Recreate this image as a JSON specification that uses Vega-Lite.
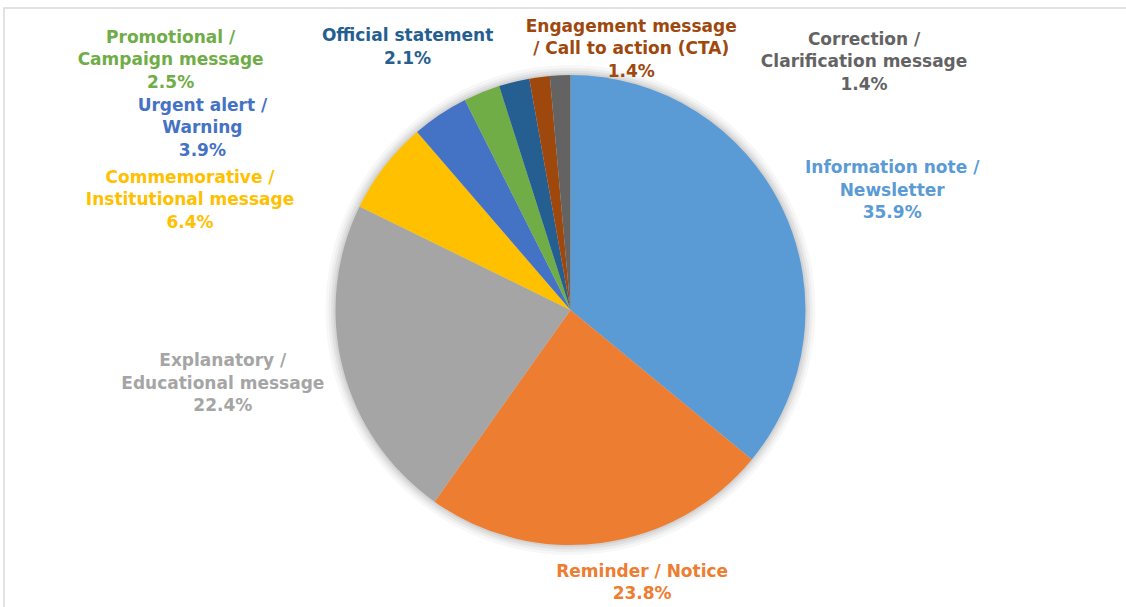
{
  "$schema": "https://vega.github.io/schema/vega-lite/v6.json",
  "autosize": {"type": "none"},
  "width": 1133,
  "height": 604,
  "padding": {"left": 4, "top": 8, "right": -11, "bottom": -5},
  "background": "#ffffff",
  "config": {
    "view": {"stroke": null},
    "text": {"font": "DejaVu Sans", "fontWeight": "bold", "fontSize": 17, "lineHeight": 22.5, "lineBreak": "\n", "align": "center", "baseline": "middle"}
  },
  "datasets": {
    "shares": [
      {"cat": "Information note / Newsletter", "pct": 35.9, "order": 1, "label": "Information note /\nNewsletter\n35.9%"},
      {"cat": "Reminder / Notice", "pct": 23.8, "order": 2, "label": "Reminder / Notice\n23.8%"},
      {"cat": "Explanatory / Educational message", "pct": 22.4, "order": 3, "label": "Explanatory /\nEducational message\n22.4%"},
      {"cat": "Commemorative / Institutional message", "pct": 6.4, "order": 4, "label": "Commemorative /\nInstitutional message\n6.4%"},
      {"cat": "Urgent alert / Warning", "pct": 3.9, "order": 5, "label": "Urgent alert /\nWarning\n3.9%"},
      {"cat": "Promotional / Campaign message", "pct": 2.5, "order": 6, "label": "Promotional /\nCampaign message\n2.5%"},
      {"cat": "Official statement", "pct": 2.1, "order": 7, "label": "Official statement\n2.1%"},
      {"cat": "Engagement message / Call to action (CTA)", "pct": 1.4, "order": 8, "label": "Engagement message\n/ Call to action (CTA)\n1.4%"},
      {"cat": "Correction / Clarification message", "pct": 1.4, "order": 9, "label": "Correction /\nClarification message\n1.4%"}
    ],
    "frame": [{"name": "chart area"}]
  },
  "layer": [
    {
      "data": {"name": "frame"},
      "mark": {"type": "rect", "fill": null, "stroke": "#D9D9D9", "strokeWidth": 1.5},
      "encoding": {}
    },
    {
      "data": {"name": "shares"},
      "encoding": {
        "theta": {"field": "pct", "type": "quantitative", "stack": true},
        "order": {"field": "order", "type": "quantitative", "sort": "ascending"}
      },
      "layer": [
        {"mark": {"type": "arc", "outerRadius": 245, "color": "#000000", "opacity": 0.03}},
        {"mark": {"type": "arc", "outerRadius": 242, "color": "#000000", "opacity": 0.04}},
        {"mark": {"type": "arc", "outerRadius": 239.5, "color": "#000000", "opacity": 0.05}},
        {"mark": {"type": "arc", "outerRadius": 237, "color": "#000000", "opacity": 0.06}},
        {
          "mark": {"type": "arc", "outerRadius": 235},
          "encoding": {
            "color": {
              "field": "cat", "type": "nominal", "legend": null,
              "scale": {
                "domain": ["Information note / Newsletter", "Reminder / Notice", "Explanatory / Educational message", "Commemorative / Institutional message", "Urgent alert / Warning", "Promotional / Campaign message", "Official statement", "Engagement message / Call to action (CTA)", "Correction / Clarification message"],
                "range": ["#5B9BD5", "#ED7D31", "#A5A5A5", "#FFC000", "#4472C4", "#70AD47", "#255E91", "#9E480E", "#636363"]
              }
            }
          }
        },
        {"mark": {"type": "text", "radius": 342.4, "dx": 12, "dy": 4.5, "color": "#5B9BD5"},
         "encoding": {"text": {"condition": {"test": "datum.order === 1", "field": "label", "type": "nominal"}, "value": ""}}},
        {"mark": {"type": "text", "radius": 278.1, "dx": 35, "dy": -14, "color": "#ED7D31"},
         "encoding": {"text": {"condition": {"test": "datum.order === 2", "field": "label", "type": "nominal"}, "value": ""}}},
        {"mark": {"type": "text", "radius": 354.6, "dx": -4, "dy": -36, "color": "#A5A5A5"},
         "encoding": {"text": {"condition": {"test": "datum.order === 3", "field": "label", "type": "nominal"}, "value": ""}}},
        {"mark": {"type": "text", "radius": 369.6, "dx": -88, "dy": 93.5, "color": "#FFC000"},
         "encoding": {"text": {"condition": {"test": "datum.order === 4", "field": "label", "type": "nominal"}, "value": ""}}},
        {"mark": {"type": "text", "radius": 356.8, "dx": -170, "dy": 92.5, "color": "#4472C4"},
         "encoding": {"text": {"condition": {"test": "datum.order === 5", "field": "label", "type": "nominal"}, "value": ""}}},
        {"mark": {"type": "text", "radius": 383.7, "dx": -255, "dy": 83, "color": "#70AD47"},
         "encoding": {"text": {"condition": {"test": "datum.order === 6", "field": "label", "type": "nominal"}, "value": ""}}},
        {"mark": {"type": "text", "radius": 295.5, "dx": -92, "dy": 13, "color": "#255E91"},
         "encoding": {"text": {"condition": {"test": "datum.order === 7", "field": "label", "type": "nominal"}, "value": ""}}},
        {"mark": {"type": "text", "radius": 252.4, "dx": 94, "dy": -33, "color": "#9E480E"},
         "encoding": {"text": {"condition": {"test": "datum.order === 8", "field": "label", "type": "nominal"}, "value": ""}}},
        {"mark": {"type": "text", "radius": 236.5, "dx": 304, "dy": -34, "color": "#636363"},
         "encoding": {"text": {"condition": {"test": "datum.order === 9", "field": "label", "type": "nominal"}, "value": ""}}}
      ]
    }
  ]
}
